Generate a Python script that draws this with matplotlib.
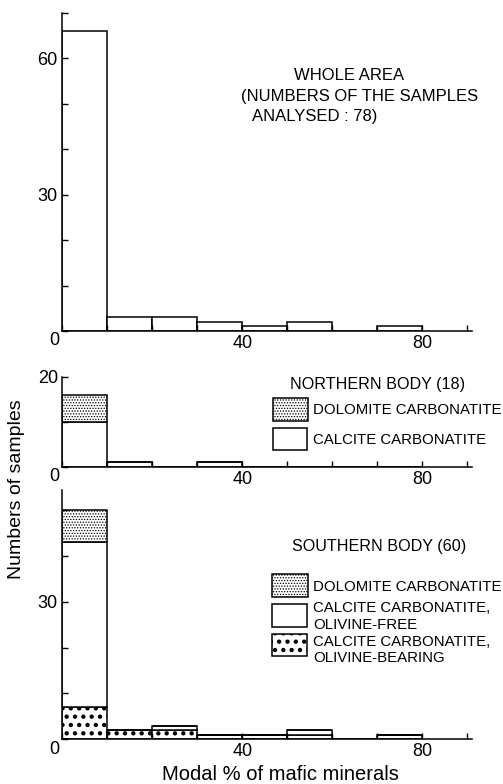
import numpy as np
import matplotlib
matplotlib.use("Agg")
import matplotlib.pyplot as plt
from matplotlib.patches import Rectangle

plt.rcParams["font.family"] = ["Liberation Sans", "DejaVu Sans"]
plt.rcParams["hatch.linewidth"] = 0.6

# bins of modal % of mafic minerals (left edges, width 10)
bin_left = [0, 10, 20, 30, 40, 50, 60, 70]

# northern body (18)
north_calcite = [10, 1, 0, 1, 0, 0, 0, 0]
north_dolomite = [6, 0, 0, 0, 0, 0, 0, 0]

# southern body (60)
south_ol_bearing = [7, 2, 2, 1, 1, 1, 0, 1]
south_ol_free = [36, 0, 1, 0, 0, 1, 0, 0]
south_dolomite = [7, 0, 0, 0, 0, 0, 0, 0]

whole_area = [n1 + n2 + s1 + s2 + s3 for n1, n2, s1, s2, s3 in
              zip(north_calcite, north_dolomite, south_ol_bearing, south_ol_free, south_dolomite)]

W, H = 503, 784
fig = plt.figure(figsize=(W / 100, H / 100), dpi=100)

DOL_HATCH = "......"
OLB_HATCH = ".."
OLB_HLW = 1.9


def px_axes(x0, y0, x1, y1):
    return fig.add_axes([x0 / W, 1 - y1 / H, (x1 - x0) / W, (y1 - y0) / H])


def style(ax, ymax, ylabels):
    ax.set_xlim(0, 91)
    ax.set_ylim(0, ymax)
    for s in ["top", "right"]:
        ax.spines[s].set_visible(False)
    for s in ["left", "bottom"]:
        ax.spines[s].set_linewidth(1.1)
    yt = np.arange(0, ymax + 0.1, 10)
    ax.set_yticks(yt)
    ax.set_yticklabels([ylabels.get(int(v), "") for v in yt])
    xt = np.arange(0, 91, 10)
    ax.set_xticks(xt)
    ax.set_xticklabels(["40" if v == 40 else "80" if v == 80 else "" for v in xt])
    ax.tick_params(direction="in", length=4, width=1, labelsize=13, pad=3)
    ax.annotate("0", xy=(0, 0), xycoords="data", xytext=(-2, -1), textcoords="offset points",
                ha="right", va="top", fontsize=13)


BAR = dict(width=10, align="edge", edgecolor="black", linewidth=1.1, facecolor="white")

# whole area
ax1 = px_axes(62, 13, 472, 331)
ax1.bar(bin_left, whole_area, **BAR)
style(ax1, 70, {30: "30", 60: "60"})

# northern body
ax2 = px_axes(62, 376.7, 472, 466.7)
ax2.bar(bin_left, north_calcite, **BAR)
ax2.bar(bin_left, north_dolomite, bottom=north_calcite, hatch=DOL_HATCH, **BAR)
style(ax2, 20, {20: "20"})

# southern body
ax3 = px_axes(62, 490, 472, 739.3)
free_bottom = np.array(south_ol_bearing)
dol_bottom = free_bottom + np.array(south_ol_free)
with plt.rc_context({"hatch.linewidth": OLB_HLW}):
    ax3.bar(bin_left, south_ol_bearing, hatch=OLB_HATCH, **BAR)
ax3.bar(bin_left, south_ol_free, bottom=free_bottom, **BAR)
ax3.bar(bin_left, south_dolomite, bottom=dol_bottom, hatch=DOL_HATCH, **BAR)
style(ax3, 54.4, {30: "30"})


def ftext(x, y, s, **kw):
    kw.setdefault("fontsize", 11)
    kw.setdefault("va", "center")
    fig.text(x / W, 1 - y / H, s, **kw)


def fbox(x0, y0, x1, y1, hatch=None, hlw=0.6):
    with plt.rc_context({"hatch.linewidth": hlw}):
        r = Rectangle((x0 / W, 1 - y1 / H), (x1 - x0) / W, (y1 - y0) / H,
                      transform=fig.transFigure, facecolor="white", edgecolor="black",
                      linewidth=1.1, hatch=hatch)
    fig.add_artist(r)


ftext(349, 75, "WHOLE AREA", ha="center", fontsize=12)
ftext(241, 96, "(NUMBERS OF THE SAMPLES", ha="left", fontsize=12)
ftext(252, 117, "ANALYSED : 78)", ha="left", fontsize=12)

ftext(290, 385, "NORTHERN BODY (18)", ha="left", fontsize=11.6)
fbox(273, 398, 308, 421, hatch=DOL_HATCH)
ftext(313, 410, "DOLOMITE CARBONATITE", ha="left", fontsize=10.8)
fbox(273, 428, 307, 450)
ftext(313, 440, "CALCITE CARBONATITE", ha="left", fontsize=10.8)

ftext(292, 547, "SOUTHERN BODY (60)", ha="left", fontsize=11.6)
fbox(272, 574, 308, 597, hatch=DOL_HATCH)
ftext(313, 587, "DOLOMITE CARBONATITE", ha="left", fontsize=10.8)
fbox(272, 604, 307, 627)
ftext(313, 608, "CALCITE CARBONATITE,", ha="left", fontsize=10.8)
ftext(313, 625, "OLIVINE-FREE", ha="left", fontsize=10.8)
fbox(272, 634, 307, 656, hatch=OLB_HATCH, hlw=OLB_HLW)
ftext(313, 642, "CALCITE CARBONATITE,", ha="left", fontsize=10.8)
ftext(313, 658, "OLIVINE-BEARING", ha="left", fontsize=10.8)

ftext(280, 775, "Modal % of mafic minerals", ha="center", fontsize=14.5)
fig.text(17 / W, 1 - 489 / H, "Numbers of samples", rotation=90, ha="center", va="center",
         fontsize=14)

fig.savefig("out.png", dpi=100)
